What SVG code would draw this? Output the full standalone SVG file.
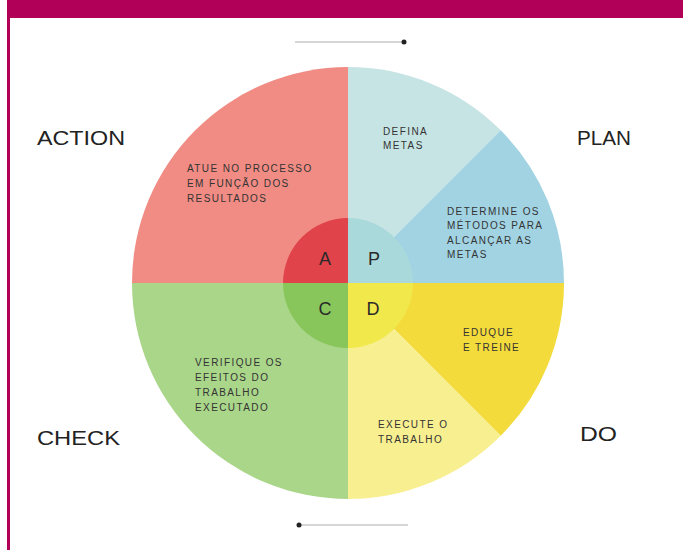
<svg xmlns="http://www.w3.org/2000/svg" width="683" height="550" viewBox="0 0 683 550">
<defs>
<style>
.big{font-family:"Liberation Sans",Arial,sans-serif;font-size:20px;fill:#222;}
.sm{font-family:"Liberation Sans",Arial,sans-serif;font-size:10px;fill:#333;letter-spacing:1.4px;}
.let{font-family:"Liberation Sans",Arial,sans-serif;font-size:18px;fill:#2a2a2a;text-anchor:middle;}
.arr{stroke:#c8c8c8;stroke-width:1.5;fill:none;}
</style>
<marker id="ah" markerWidth="6" markerHeight="6" refX="3" refY="3" orient="auto" markerUnits="userSpaceOnUse">
<circle cx="3" cy="3" r="2.5" fill="#222"/>
</marker>
</defs>
<rect x="0" y="0" width="683" height="550" fill="#ffffff"/>
<g id="frame">
<rect x="7" y="0" width="676" height="18" fill="#B00058"/>
<rect x="7" y="0" width="3" height="550" fill="#B00058"/>
</g>
<g id="wheel">
<path d="M348,283 L348,67 A216,216 0 0,0 132,283 Z" fill="#F08C84"/>
<path d="M348,283 L348,67 A216,216 0 0,1 500.7,130.3 Z" fill="#C7E4E4"/>
<path d="M348,283 L500.7,130.3 A216,216 0 0,1 564,283 Z" fill="#A2D3E3"/>
<path d="M348,283 L564,283 A216,216 0 0,1 500.7,435.7 Z" fill="#F3DB3C"/>
<path d="M348,283 L500.7,435.7 A216,216 0 0,1 348,499 Z" fill="#F8EF91"/>
<path d="M348,283 L348,499 A216,216 0 0,1 132,283 Z" fill="#AAD68A"/>
</g>
<g id="core">
<path d="M348,283 L348,218 A65,65 0 0,0 283,283 Z" fill="#E0434A"/>
<path d="M348,283 L348,218 A65,65 0 0,1 413,283 Z" fill="#AAD9DC"/>
<path d="M348,283 L413,283 A65,65 0 0,1 348,348 Z" fill="#F1E84C"/>
<path d="M348,283 L348,348 A65,65 0 0,1 283,283 Z" fill="#88C65C"/>
<text class="let" x="325" y="265">A</text>
<text class="let" x="374" y="265">P</text>
<text class="let" x="325" y="315">C</text>
<text class="let" x="373" y="315">D</text>
</g>
<g id="action">
<text class="big" x="37" y="145" textLength="88" lengthAdjust="spacingAndGlyphs">ACTION</text>
<text class="sm" x="187" y="172">ATUE NO PROCESSO</text>
<text class="sm" x="187" y="187">EM FUNÇÃO DOS</text>
<text class="sm" x="187" y="202">RESULTADOS</text>
</g>
<g id="plan">
<text class="big" x="577" y="145" textLength="54" lengthAdjust="spacingAndGlyphs">PLAN</text>
<text class="sm" x="383" y="135">DEFINA</text>
<text class="sm" x="383" y="149">METAS</text>
<text class="sm" x="447" y="215">DETERMINE OS</text>
<text class="sm" x="447" y="229">MÉTODOS PARA</text>
<text class="sm" x="447" y="244">ALCANÇAR AS</text>
<text class="sm" x="447" y="258">METAS</text>
</g>
<g id="check">
<text class="big" x="37" y="445" textLength="83" lengthAdjust="spacingAndGlyphs">CHECK</text>
<text class="sm" x="195" y="366">VERIFIQUE OS</text>
<text class="sm" x="195" y="381">EFEITOS DO</text>
<text class="sm" x="195" y="396">TRABALHO</text>
<text class="sm" x="195" y="411">EXECUTADO</text>
</g>
<g id="do">
<text class="big" x="580" y="441" textLength="37" lengthAdjust="spacingAndGlyphs">DO</text>
<text class="sm" x="463" y="336">EDUQUE</text>
<text class="sm" x="463" y="351">E TREINE</text>
<text class="sm" x="378" y="428">EXECUTE O</text>
<text class="sm" x="378" y="443">TRABALHO</text>
</g>
<g id="connectors">
<line class="arr" x1="295" y1="42" x2="404" y2="42" marker-end="url(#ah)"/>
<line class="arr" x1="408" y1="525" x2="299" y2="525" marker-end="url(#ah)"/>
</g>
</svg>
